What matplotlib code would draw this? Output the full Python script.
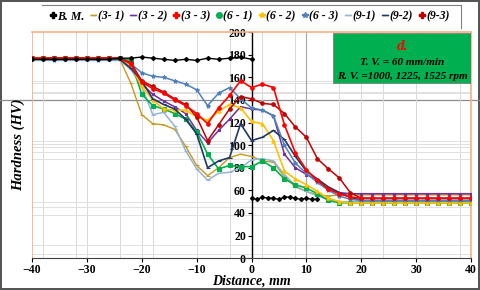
import matplotlib
matplotlib.use("Agg")
import matplotlib.pyplot as plt
from matplotlib.patches import Rectangle
from matplotlib.lines import Line2D

plt.rcParams['font.family'] = ['Liberation Serif', 'DejaVu Serif']

# ---------------- data ----------------
x = list(range(-40, 41, 2))

bm_x = [-40, -38, -36, -34, -32, -30, -28, -26, -24, -22, -20, -18, -16, -14, -12, -10, -8, -6, -4, -2, 0,
        0, 1, 2, 3, 4, 5, 6, 7, 8, 9, 10, 11, 12]
bm_y = [176, 176, 176, 176, 176, 176, 176, 176, 177, 177, 178, 177, 176, 175, 176, 175, 177, 176, 177, 178, 176,
        53, 52, 54, 53, 53, 52, 54, 54, 53, 52, 53, 52, 52]

s31 = [176, 176, 176, 176, 176, 176, 176, 176, 176, 155, 127, 119, 118, 114, 99, 82, 73, 80, 89, 92, 90,
       86, 85, 72, 63, 59, 56, 55, 56, 56, 56, 56, 56, 56, 56, 56, 56, 56, 56, 56, 56]
s32 = [176, 176, 176, 176, 176, 176, 176, 176, 176, 170, 154, 145, 139, 134, 128, 113, 102, 113, 123, 134, 132,
       131, 126, 92, 80, 74, 69, 61, 58, 57, 57, 57, 57, 57, 57, 57, 57, 57, 57, 57, 57]
s33 = [177, 177, 177, 177, 177, 177, 177, 177, 177, 172, 156, 150, 146, 140, 135, 128, 119, 133, 144, 157, 151,
       154, 151, 118, 93, 78, 69, 61, 57, 54, 53, 53, 53, 53, 53, 53, 53, 53, 53, 53, 53]
s61 = [177, 177, 177, 177, 177, 177, 177, 177, 177, 175, 145, 135, 132, 128, 123, 112, 92, 79, 82, 81, 81,
       86, 80, 70, 65, 62, 57, 51, 49, 49, 49, 49, 49, 49, 49, 49, 49, 49, 49, 49, 49]
s62 = [177, 177, 177, 177, 177, 177, 177, 177, 177, 170, 152, 140, 132, 131, 131, 125, 122, 130, 136, 133, 121,
       119, 104, 77, 70, 65, 59, 53, 50, 49, 49, 49, 49, 49, 49, 49, 49, 49, 49, 49, 49]
s63 = [176, 176, 175, 176, 176, 176, 175, 176, 177, 172, 164, 161, 160, 157, 154, 149, 135, 146, 151, 141, 133,
       131, 126, 100, 84, 75, 67, 60, 55, 52, 51, 51, 51, 51, 51, 51, 51, 51, 51, 51, 51]
s91 = [175, 175, 175, 175, 175, 175, 175, 175, 175, 167, 152, 127, 129, 117, 95, 79, 69, 75, 76, 80, 87,
       88, 86, 74, 64, 59, 55, 52, 50, 50, 50, 50, 50, 50, 50, 50, 50, 50, 50, 50, 50]
s92 = [176, 176, 176, 176, 176, 176, 176, 176, 176, 168, 157, 141, 136, 132, 123, 110, 80, 86, 89, 119, 104,
       107, 113, 105, 90, 77, 70, 63, 58, 54, 51, 51, 51, 51, 51, 51, 51, 51, 51, 51, 51]
s93 = [177, 177, 177, 177, 177, 177, 177, 177, 177, 173, 157, 152, 147, 141, 136, 125, 104, 118, 132, 143, 141,
       137, 136, 128, 116, 107, 88, 79, 71, 58, 53, 53, 53, 53, 53, 53, 53, 53, 53, 53, 53]

labels = ['B. M.', '(3- 1)', '(3 - 2)', '(3 - 3)', '(6 - 1)', '(6 - 2)', '(6 - 3)', '(9-1)', '(9-2)', '(9-3)']
x_ticks = [-40, -30, -20, -10, 0, 10, 20, 30, 40]
y_ticks = [0, 20, 40, 60, 80, 100, 120, 140, 160, 180, 200]

# ---------------- figure ----------------
fig = plt.figure(figsize=(4.8, 2.9), dpi=100)
fig.patch.set_facecolor('white')
fig.patch.set_edgecolor('#555555')
fig.patch.set_linewidth(1.5)
ax = fig.add_axes([0.0667, 0.110, 0.9146, 0.779])
ax.set_xlim(-40, 40)
ax.set_ylim(0, 200)

# irregular Excel-like gridlines
vgrid = [-38, -32, -24, -18, -10, -4, 2, 8, 16, 24, 30, 38, -30, -20, 10, 20, 30]
hgrid = [4, 12, 38, 45, 50, 88, 94, 98, 101, 104, 146, 147, 155, 157]
for v in vgrid:
    ax.axvline(v, color='#d9d9d9', lw=0.7, zorder=0)
for h in hgrid:
    ax.axhline(h, color='#e0e0e0', lw=0.7, zorder=0)
fig.add_artist(Line2D([0.0, 1.0], [0.655, 0.655], transform=fig.transFigure, color='#8c8c8c', lw=0.9, zorder=0))
ax.axvline(10, color='#a6a6a6', lw=0.8, zorder=0)

orange = '#F4B183'
ax.axvline(-40, color=orange, lw=1.2, zorder=1)
ax.spines['left'].set_position(('data', 0))
ax.spines['left'].set_color('black')
ax.spines['left'].set_linewidth(1.0)
ax.spines['right'].set_color(orange)
ax.spines['top'].set_color(orange)
ax.spines['right'].set_linewidth(1.2)
ax.spines['top'].set_linewidth(1.2)
ax.spines['bottom'].set_color('#404040')
ax.patch.set_alpha(0)

ax.set_xticks(x_ticks)
ax.set_yticks(y_ticks)
ax.tick_params(axis='both', direction='out', length=3, width=0.8, labelsize=8.5, pad=1)
for lab in ax.get_xticklabels() + ax.get_yticklabels():
    lab.set_fontweight('bold')

series = [
    (bm_x, bm_y, 'black', 'D', 2.0, 1.0),
    (x, s31, '#C59A1B', '_', 2.5, 1.0),
    (x, s32, '#7030A0', 's', 2.0, 1.1),
    (x, s33, '#FF0000', 'o', 2.5, 1.2),
    (x, s61, '#00B050', 's', 2.6, 1.2),
    (x, s62, '#FFC000', '^', 2.4, 1.2),
    (x, s63, '#4F81BD', '*', 3.0, 1.1),
    (x, s91, '#95B3D7', '_', 2.5, 1.1),
    (x, s92, '#1F3864', '_', 2.5, 1.2),
    (x, s93, '#C00000', 'o', 2.5, 1.1),
]
legend_markers = ['P', '_', '_', 'P', 'o', '*', '*', '_', '_', 'P']
order = [1, 7, 2, 4, 5, 8, 6, 9, 3, 0]
handles = [None] * len(series)
for i in order:
    xs, ys, c, m, ms, lw = series[i]
    if i == 0:
        ax.plot(xs[:21], ys[:21], color=c, marker=m, ms=ms, lw=lw, zorder=5)
        ax.plot(xs[21:], ys[21:], color=c, marker=m, ms=ms, lw=lw, zorder=5)
    else:
        ax.plot(xs, ys, color=c, marker=m, ms=ms, lw=lw, mew=0.8, zorder=3)
    handles[i] = Line2D([], [], color=c, marker=legend_markers[i], ms=4, lw=1.0)

leg = fig.legend(handles, labels, ncol=10, loc='center', bbox_to_anchor=(0.52, 0.943),
                 frameon=False, handlelength=0.5, handletextpad=0.1, columnspacing=0.55,
                 prop={'family': 'Liberation Serif', 'weight': 'bold', 'style': 'italic', 'size': 8.5})
fig.add_artist(Line2D([0.087, 0.961], [0.983, 0.983], transform=fig.transFigure, color='#808080', lw=0.8))
fig.add_artist(Line2D([0.961, 0.961], [0.983, 0.905], transform=fig.transFigure, color='#808080', lw=0.8))

# annotation box
ax.add_patch(Rectangle((0.686, 0.774), 0.314, 0.222, transform=ax.transAxes,
                       facecolor='#00B050', edgecolor='#7f7f7f', lw=0.6, zorder=6))
ax.text(0.843, 0.935, 'd.', transform=ax.transAxes, color='#FF0000', fontsize=11,
        fontweight='bold', style='italic', ha='center', va='center', zorder=7)
ax.text(0.843, 0.865, 'T. V. = 60 mm/min', transform=ax.transAxes, color='black', fontsize=8,
        fontweight='bold', style='italic', ha='center', va='center', zorder=7)
ax.text(0.843, 0.805, 'R. V. =1000, 1225, 1525 rpm', transform=ax.transAxes, color='black', fontsize=8,
        fontweight='bold', style='italic', ha='center', va='center', zorder=7)

fig.text(0.038, 0.50, 'Hardness (HV)', rotation=90, fontsize=10.5, fontweight='bold', style='italic',
         ha='center', va='center')
fig.text(0.523, 0.030, 'Distance, mm', fontsize=10, fontweight='bold', style='italic',
         ha='center', va='center')

fig.savefig('out.png', dpi=100)
